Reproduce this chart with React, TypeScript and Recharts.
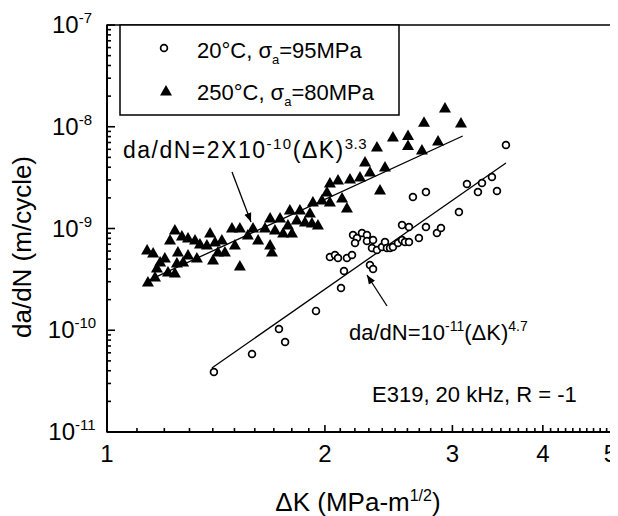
import { ScatterChart, Scatter, XAxis, YAxis, ReferenceArea } from "recharts";

const FONT = '"Liberation Sans", Arial, Helvetica, sans-serif';

// 20°C, sigma_a = 95 MPa  (open circles)
const dK20 = [
  1.405, 1.586, 1.728, 1.762, 1.944, 2.105, 2.125, 2.032, 2.065, 2.085,
  2.145, 2.18, 2.187, 2.215, 2.201, 2.25, 2.286, 2.286, 2.331, 2.323,
  2.36, 2.398, 2.421, 2.436, 2.46, 2.483, 2.523, 2.556, 2.58, 2.613,
  2.556, 2.613, 2.758, 2.697, 2.856, 2.893, 2.308, 2.331, 2.646, 2.758,
  3.063, 3.142, 3.254, 3.296, 3.402, 3.457, 3.557,
];
const rate20 = [
  3.89e-11, 5.85e-11, 1.03e-10, 7.67e-11, 1.55e-10, 2.6e-10, 3.82e-10, 5.25e-10, 5.49e-10, 5.13e-10,
  5.13e-10, 5.49e-10, 8.63e-10, 8.07e-10, 7.2e-10, 9.04e-10, 8.63e-10, 7.54e-10, 7.71e-10, 6.43e-10,
  6.15e-10, 6.58e-10, 7.36e-10, 6.43e-10, 6.43e-10, 6.58e-10, 7.2e-10, 7.71e-10, 7.36e-10, 7.36e-10,
  1.08e-9, 1.035e-9, 1.035e-9, 8.07e-10, 9.04e-10, 1.01e-9, 4.38e-10, 4.0e-10, 2.04e-9, 2.28e-9,
  1.45e-9, 2.74e-9, 2.28e-9, 2.8e-9, 3.21e-9, 2.34e-9, 6.62e-9,
];

// 250°C, sigma_a = 80 MPa  (filled triangles)
const dK250 = [
  1.136, 1.158, 1.139, 1.165, 1.184, 1.202, 1.172, 1.222, 1.241, 1.269,
  1.294, 1.323, 1.344, 1.253, 1.294, 1.331, 1.241, 1.214, 1.249, 1.274,
  1.388, 1.374, 1.41, 1.441, 1.423, 1.401, 1.455, 1.488, 1.526, 1.502,
  1.526, 1.565, 1.591, 1.617, 1.653, 1.68, 1.706, 1.68, 1.69, 1.734,
  1.751, 1.778, 1.801, 1.789, 1.829, 1.847, 1.877, 1.907, 1.919, 1.956,
  1.925, 1.981, 2.013, 2.032, 2.032, 2.085, 2.112, 2.145, 2.166, 2.236,
  2.272, 2.308, 2.421, 2.383, 2.36, 2.483, 2.605, 2.605, 2.723, 2.741,
  2.866, 2.93, 3.083,
];
const rate250 = [
  6.15e-10, 5.74e-10, 2.98e-10, 3.34e-10, 4.69e-10, 5.13e-10, 4.09e-10, 7.71e-10, 9.67e-10, 8.44e-10,
  8.06e-10, 7.71e-10, 7.05e-10, 5.87e-10, 5.49e-10, 5.13e-10, 3.65e-10, 3.74e-10, 4.58e-10, 4.69e-10,
  9.03e-10, 6.89e-10, 7.37e-10, 7.71e-10, 5.87e-10, 4.9e-10, 5.87e-10, 1.01e-9, 1.01e-9, 6.89e-10,
  4.28e-10, 8.63e-10, 1.01e-9, 7.71e-10, 1.01e-9, 1.27e-9, 9.67e-10, 6.89e-10, 5.87e-10, 1.27e-9,
  9.03e-10, 1.08e-9, 9.03e-10, 1.52e-9, 1.21e-9, 1.52e-9, 1.16e-9, 1.42e-9, 1.13e-9, 1.08e-9,
  1.82e-9, 1.91e-9, 2.28e-9, 1.82e-9, 2.8e-9, 3.0e-9, 1.99e-9, 1.59e-9, 3.07e-9, 3.21e-9,
  4.5e-9, 3.59e-9, 4.02e-9, 2.39e-9, 6.32e-9, 7.93e-9, 8.2e-9, 6.54e-9, 5.91e-9, 1.11e-8,
  7.24e-9, 1.53e-8, 1.09e-8,
];

// fitted lines, end points
const fit20K = [1.396, 3.557];
const fit20Rate = [4.26e-11, 4.4e-9];
const fit250K = [1.139, 3.1];
const fit250Rate = [3.07e-10, 8.11e-9];

const xLabels = [1, 2, 3, 4, 5];
const yExponents = [-11, -10, -9, -8, -7];

const toPoints = (xs: number[], ys: number[]) => xs.map((x, i) => ({ x, y: ys[i] }));

const circles = toPoints(dK20, rate20);
const triangles = toPoints(dK250, rate250);
const fit20 = toPoints(fit20K, fit20Rate);
const fit250 = toPoints(fit250K, fit250Rate);

// minor ticks every 0.1 on x, 1..9 per decade on y
const xTicks: number[] = [];
for (let i = 10; i <= 50; i++) xTicks.push(i / 10);
const yTicks: number[] = [];
yExponents.forEach((e) => {
  const steps = e === -7 ? [1] : [1, 2, 3, 4, 5, 6, 7, 8, 9];
  steps.forEach((m) => yTicks.push(m * Math.pow(10, e)));
});

const XTick = (props: any) => {
  const { x, y, payload } = props;
  const v = payload.value;
  const major = xLabels.some((l) => Math.abs(l - v) < 1e-6);
  const last = Math.abs(v - 5) < 1e-6;
  return (
    <g>
      <line x1={x} x2={x} y1={y} y2={y - (major ? 7 : 4)} stroke="#000" strokeWidth={1.6} />
      {major && (
        <text
          x={last ? x + 4 : x}
          y={y + 30}
          textAnchor={last ? "end" : "middle"}
          fontSize={24}
          fontFamily={FONT}
          fill="#000"
        >
          {v}
        </text>
      )}
    </g>
  );
};

const YTick = (props: any) => {
  const { x, y, payload } = props;
  const lg = Math.log10(payload.value);
  const major = Math.abs(lg - Math.round(lg)) < 1e-6;
  return (
    <g>
      <line x1={x} x2={x + (major ? 8 : 4)} y1={y} y2={y} stroke="#000" strokeWidth={1.6} />
      {major && (
        <text x={x - 35} y={y + 8} textAnchor="middle" fontSize={24} fontFamily={FONT} fill="#000">
          10
          <tspan dy={-10} fontSize={15}>
            {Math.round(lg)}
          </tspan>
        </text>
      )}
    </g>
  );
};

const Circle = (p: any) => (
  <circle cx={p.cx} cy={p.cy} r={3.4} fill="#fff" stroke="#000" strokeWidth={1.7} />
);

const Triangle = (p: any) => (
  <polygon
    points={`${p.cx},${p.cy - 6} ${p.cx - 6},${p.cy + 4.5} ${p.cx + 6},${p.cy + 4.5}`}
    fill="#000"
  />
);

const NoDot = () => <g />;

export default function App() {
  return (
    <div style={{ position: "relative", width: 610, height: 508, fontFamily: FONT }}>
      <ScatterChart width={610} height={500} margin={{ top: 17, right: 5, bottom: 0, left: 0 }}>
        <XAxis
          type="number"
          dataKey="x"
          scale="log"
          domain={[1, 5]}
          allowDataOverflow
          ticks={xTicks}
          interval={0}
          tick={<XTick />}
          tickLine={false}
          tickSize={0}
          tickMargin={0}
          height={76}
          axisLine={{ stroke: "#000", strokeWidth: 2 }}
        />
        <YAxis
          type="number"
          dataKey="y"
          scale="log"
          domain={[1e-11, 1e-7]}
          allowDataOverflow
          ticks={yTicks}
          interval={0}
          tick={<YTick />}
          tickLine={false}
          tickSize={0}
          tickMargin={0}
          width={99}
          axisLine={{ stroke: "#000", strokeWidth: 2 }}
        />
        <ReferenceArea x1={1} x2={5} y1={1e-11} y2={1e-7} fill="none" stroke="#000" strokeWidth={1.5} />
        <Scatter data={fit250} line={{ stroke: "#000", strokeWidth: 1.3 }} shape={NoDot} isAnimationActive={false} />
        <Scatter data={fit20} line={{ stroke: "#000", strokeWidth: 1.3 }} shape={NoDot} isAnimationActive={false} />
        <Scatter data={triangles} shape={Triangle} isAnimationActive={false} />
        <Scatter data={circles} shape={Circle} isAnimationActive={false} />
      </ScatterChart>

      <svg
        width={610}
        height={508}
        style={{ position: "absolute", left: 0, top: 0, pointerEvents: "none", overflow: "visible" }}
        fontFamily={FONT}
        fill="#000"
      >
        <defs>
          <marker id="head" viewBox="0 0 10 10" refX="10" refY="5" markerWidth="7" markerHeight="7" orient="auto">
            <path d="M0,1 L10,5 L0,9 z" fill="#000" />
          </marker>
        </defs>

        {/* legend */}
        <rect x={112} y={17} width={279} height={90} fill="#fff" stroke="#000" strokeWidth={1.5} />
        <circle cx={156} cy={40} r={3.4} fill="#fff" stroke="#000" strokeWidth={1.7} />
        <text x={189} y={50} fontSize={22}>
          20°C, σ<tspan dy={6} fontSize={13}>a</tspan>
          <tspan dy={-6}>=95MPa</tspan>
        </text>
        <polygon points="158,77 152,87.5 164,87.5" fill="#000" />
        <text x={189} y={92} fontSize={22}>
          250°C, σ<tspan dy={6} fontSize={13}>a</tspan>
          <tspan dy={-6}>=80MPa</tspan>
        </text>

        {/* fit annotations */}
        <text x={115} y={150} fontSize={23} letterSpacing={1.5}>
          da/dN=2X10<tspan dy={-9} fontSize={15}>-10</tspan>
          <tspan dy={9}>(ΔK)</tspan>
          <tspan dy={-9} fontSize={15} letterSpacing={0.5}>3.3</tspan>
        </text>
        <line x1={224} y1={164} x2={243} y2={214} stroke="#000" strokeWidth={1.3} markerEnd="url(#head)" />

        <text x={341} y={332} fontSize={22}>
          da/dN=10<tspan dy={-9} fontSize={14}>-11</tspan>
          <tspan dy={9}>(ΔK)</tspan>
          <tspan dy={-9} fontSize={14}>4.7</tspan>
        </text>
        <line x1={379} y1={298} x2={359} y2={267} stroke="#000" strokeWidth={1.3} markerEnd="url(#head)" />

        <text x={364} y={394} fontSize={22}>
          E319, 20 kHz, R = -1
        </text>

        {/* axis titles */}
        <text x={14} y={239} fontSize={26} textAnchor="middle" transform="rotate(-90 14 239)" dominantBaseline="central">
          da/dN (m/cycle)
        </text>
        <text x={350} y={503} fontSize={26} textAnchor="middle">
          ΔK (MPa-m<tspan dy={-10} fontSize={16}>1/2</tspan>
          <tspan dy={10}>)</tspan>
        </text>
      </svg>
    </div>
  );
}
